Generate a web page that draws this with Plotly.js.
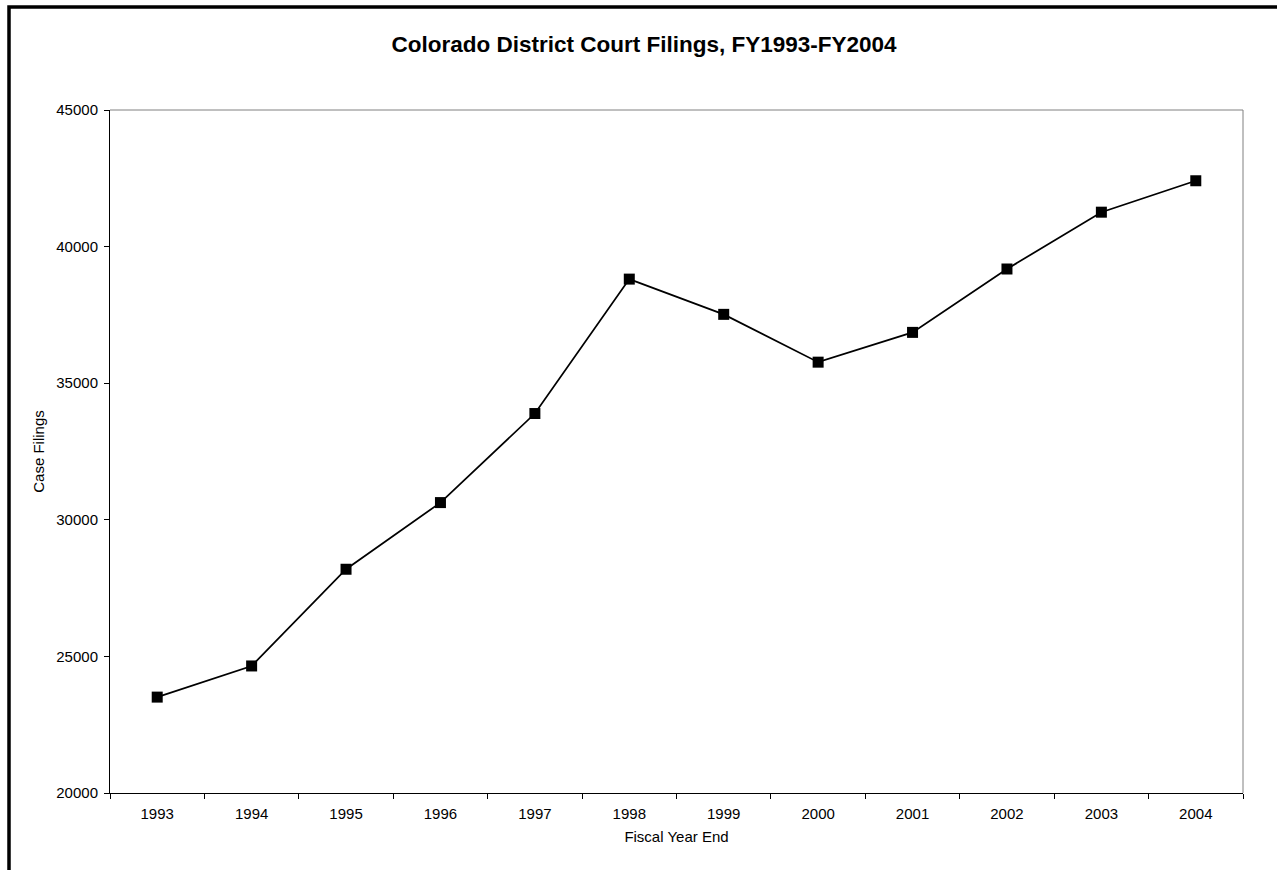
<!DOCTYPE html>
<html>
<head>
<meta charset="utf-8">
<script src="https://cdn.plot.ly/plotly-3.0.1.min.js"></script>
<style>
html, body { margin: 0; padding: 0; background: #fff; }
#chart { width: 1277px; height: 870px; }
</style>
</head>
<body>
<div id="chart"></div>
<script>
const years = ["1993","1994","1995","1996","1997","1998","1999","2000","2001","2002","2003","2004"];
const filings = [23510, 24650, 28190, 30630, 33890, 38810, 37520, 35770, 36860, 39180, 41260, 42410];

const W = 1277, H = 870;
const M = {l: 110, r: 34, t: 110, b: 77};
const pw = W - M.l - M.r, ph = H - M.t - M.b;
const px = v => (v - M.l) / pw;
const py = v => (H - M.b - v) / ph;

const trace = {
  x: years, y: filings, type: 'scatter', mode: 'lines+markers',
  line: {color: '#000', width: 1.75},
  marker: {symbol: 'square', size: 11, color: '#000'},
  hoverinfo: 'x+y'
};

const font = {family: 'Liberation Sans, Arial, sans-serif', color: '#000', size: 15};

const layout = {
  width: W, height: H,
  margin: M,
  paper_bgcolor: '#fff', plot_bgcolor: '#fff',
  showlegend: false,
  font: font,
  title: {text: '<b>Colorado District Court Filings, FY1993-FY2004</b>', x: 644 / W, xref: 'container', xanchor: 'center', y: 1 - 44/H, yanchor: 'middle', font: {family: font.family, size: 22.5, color: '#000'}},
  xaxis: {
    type: 'category', range: [-0.5, 11.5],
    showline: true, linecolor: '#000', linewidth: 1,
    showgrid: false, zeroline: false,
    ticks: 'outside', tickson: 'boundaries', ticklen: 5, tickcolor: '#000', tickwidth: 1,
    ticklabelstandoff: 7,
    tickfont: font,
    title: {text: 'Fiscal Year End', font: font, standoff: 10}
  },
  yaxis: {
    range: [20000, 45000], dtick: 5000, tick0: 20000, tickformat: 'd',
    showline: true, linecolor: '#000', linewidth: 1,
    showgrid: false, zeroline: false,
    ticks: 'outside', ticklen: 5, tickcolor: '#000', tickwidth: 1,
    ticklabelstandoff: 3,
    tickfont: font,
    title: {text: 'Case Filings', font: font, standoff: 8}
  },
  shapes: [
    {type: 'line', xref: 'paper', yref: 'paper', x0: 0, x1: 1, y0: 1, y1: 1, line: {color: '#808080', width: 1}},
    {type: 'line', xref: 'paper', yref: 'paper', x0: 1, x1: 1, y0: 0, y1: 1, line: {color: '#808080', width: 1}},
    {type: 'rect', xref: 'paper', yref: 'paper', x0: px(9), x1: px(W + 20), y0: py(H + 20), y1: py(7), line: {color: '#000', width: 3.5}, fillcolor: 'rgba(0,0,0,0)', layer: 'above'}
  ]
};

Plotly.newPlot('chart', [trace], layout, {displayModeBar: false, staticPlot: true});
</script>
</body>
</html>
